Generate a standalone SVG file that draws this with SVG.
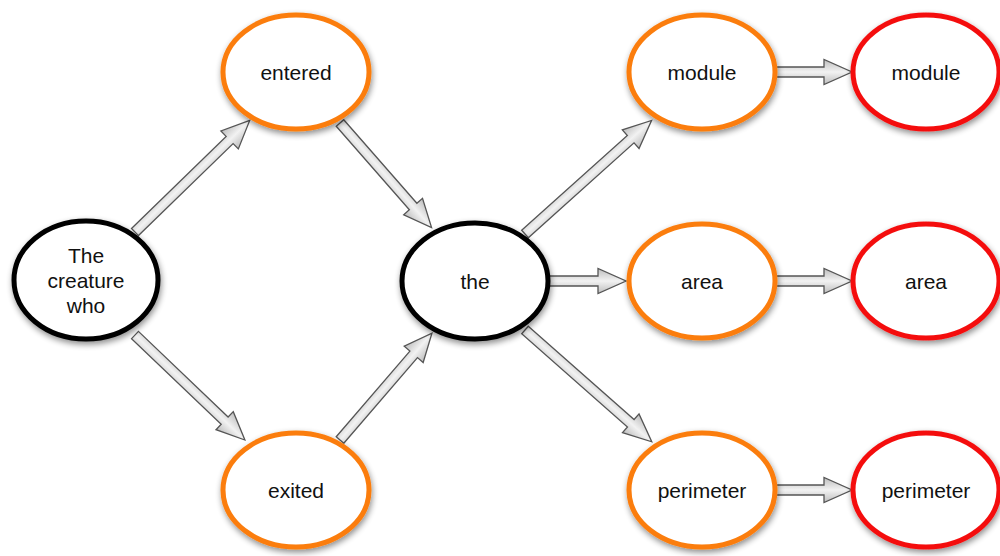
<svg xmlns="http://www.w3.org/2000/svg" width="1000" height="556" viewBox="0 0 1000 556">
<defs>
<filter id="sh" x="-30%" y="-30%" width="160%" height="160%">
<feGaussianBlur in="SourceAlpha" stdDeviation="3"/>
<feOffset dx="1" dy="3" result="b"/>
<feComponentTransfer><feFuncA type="linear" slope="0.45"/></feComponentTransfer>
<feMerge><feMergeNode/><feMergeNode in="SourceGraphic"/></feMerge>
</filter>
<linearGradient id="ag" x1="0" y1="0" x2="0" y2="1">
<stop offset="0" stop-color="#bdbdbd"/>
<stop offset="0.5" stop-color="#f2f2f2"/>
<stop offset="1" stop-color="#bdbdbd"/>
</linearGradient>
</defs>
<style>
.n{fill:#fff;stroke-width:5;filter:url(#sh)}
.k{stroke:#000}
.o{stroke:#fb7d0c}
.r{stroke:#f41010}
.t{font-family:"Liberation Sans",Arial,sans-serif;font-size:21px;fill:#111;text-anchor:middle;dominant-baseline:central}
.a{fill:url(#ag);stroke:#555;stroke-width:1.3;stroke-linejoin:miter}
</style>
<g id="connectors">
<g transform="translate(135,232) rotate(-44.2)"><path class="a" d="M0,-5 L132,-5 L132,-12.5 L160,0 L132,12.5 L132,5 L0,5 Z"/></g>
<g transform="translate(135,335) rotate(43.7)"><path class="a" d="M0,-5 L124,-5 L124,-12.5 L152,0 L124,12.5 L124,5 L0,5 Z"/></g>
<g transform="translate(340,123) rotate(48.8)"><path class="a" d="M0,-5 L111,-5 L111,-12.5 L139,0 L111,12.5 L111,5 L0,5 Z"/></g>
<g transform="translate(340,440) rotate(-49.3)"><path class="a" d="M0,-5 L113,-5 L113,-12.5 L141,0 L113,12.5 L113,5 L0,5 Z"/></g>
<g transform="translate(525,234) rotate(-41.9)"><path class="a" d="M0,-5 L142,-5 L142,-12.5 L170,0 L142,12.5 L142,5 L0,5 Z"/></g>
<g transform="translate(549,281)"><path class="a" d="M0,-5 L49,-5 L49,-12.5 L77,0 L49,12.5 L49,5 L0,5 Z"/></g>
<g transform="translate(525,330) rotate(41.4)"><path class="a" d="M0,-5 L141,-5 L141,-12.5 L169,0 L141,12.5 L141,5 L0,5 Z"/></g>
<g transform="translate(776,72)"><path class="a" d="M0,-5 L48,-5 L48,-12.5 L76,0 L48,12.5 L48,5 L0,5 Z"/></g>
<g transform="translate(776,281)"><path class="a" d="M0,-5 L48,-5 L48,-12.5 L76,0 L48,12.5 L48,5 L0,5 Z"/></g>
<g transform="translate(776,490)"><path class="a" d="M0,-5 L48,-5 L48,-12.5 L76,0 L48,12.5 L48,5 L0,5 Z"/></g>
</g>
<g id="n-creature"><ellipse class="n k" cx="86" cy="280" rx="72" ry="59"/><text class="t" x="86" y="255">The</text><text class="t" x="86" y="280">creature</text><text class="t" x="86" y="305">who</text></g>
<g id="n-entered"><ellipse class="n o" cx="296" cy="72" rx="73" ry="57"/><text class="t" x="296" y="72">entered</text></g>
<g id="n-exited"><ellipse class="n o" cx="296" cy="490" rx="73" ry="57"/><text class="t" x="296" y="490">exited</text></g>
<g id="n-the"><ellipse class="n k" cx="475" cy="281" rx="73" ry="58"/><text class="t" x="475" y="281">the</text></g>
<g id="n-module"><ellipse class="n o" cx="702" cy="72" rx="73" ry="57"/><text class="t" x="702" y="72">module</text></g>
<g id="n-area"><ellipse class="n o" cx="702" cy="281" rx="73" ry="57"/><text class="t" x="702" y="281">area</text></g>
<g id="n-perimeter"><ellipse class="n o" cx="702" cy="490" rx="73" ry="57"/><text class="t" x="702" y="490">perimeter</text></g>
<g id="n-module2"><ellipse class="n r" cx="926" cy="72" rx="73" ry="57"/><text class="t" x="926" y="72">module</text></g>
<g id="n-area2"><ellipse class="n r" cx="926" cy="281" rx="73" ry="57"/><text class="t" x="926" y="281">area</text></g>
<g id="n-perimeter2"><ellipse class="n r" cx="926" cy="490" rx="73" ry="57"/><text class="t" x="926" y="490">perimeter</text></g>
</svg>
